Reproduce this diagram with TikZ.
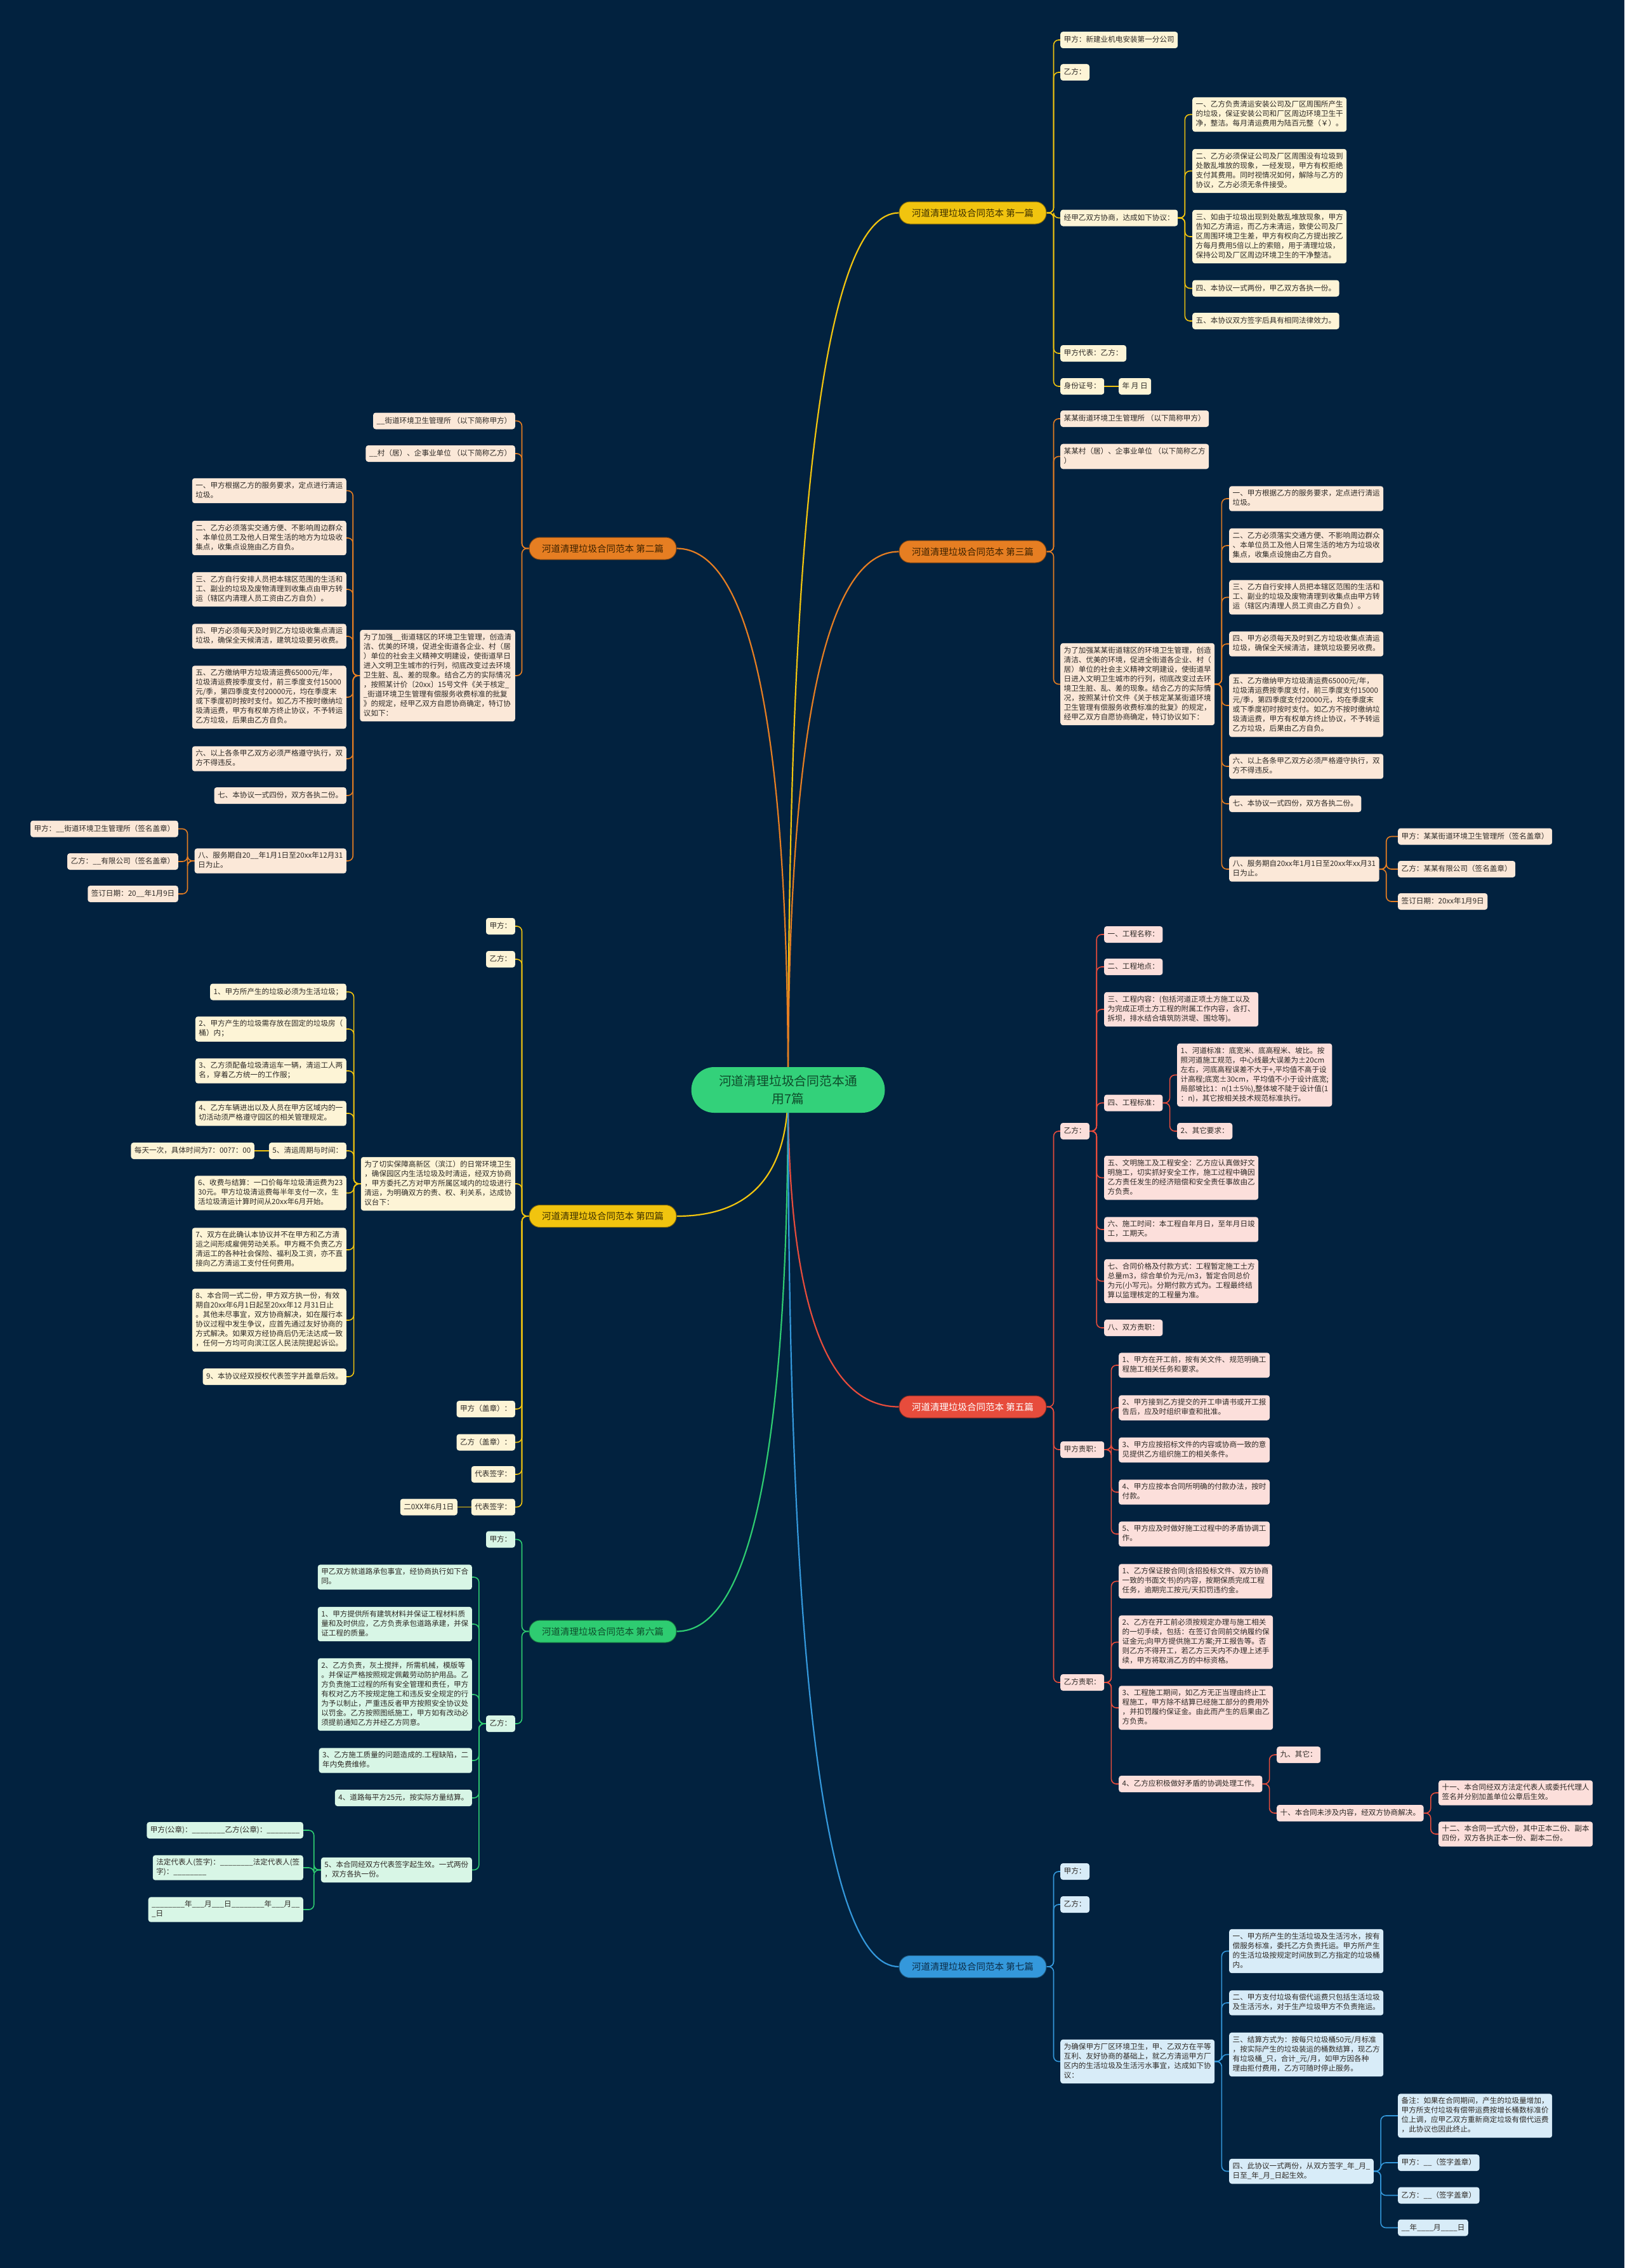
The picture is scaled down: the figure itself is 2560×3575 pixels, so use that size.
\documentclass[tikz,border=0pt]{standalone}
\usepackage{fontspec}
\setmainfont{Noto Sans CJK SC}
\usetikzlibrary{calc}
\pgfdeclarelayer{bg}
\pgfdeclarelayer{edges}
\pgfsetlayers{bg,edges,main}
\definecolor{bgnavy}{HTML}{02223F}
\definecolor{leafink}{HTML}{2E2A26}
\definecolor{ylwline}{HTML}{F1C40F}
\definecolor{ylwfill}{HTML}{FDF4D6}
\definecolor{ylwink}{HTML}{3D3000}
\definecolor{orgline}{HTML}{E67E22}
\definecolor{orgfill}{HTML}{FBE8D8}
\definecolor{orgink}{HTML}{3D2200}
\definecolor{redline}{HTML}{E74C3C}
\definecolor{redfill}{HTML}{FCDFDB}
\definecolor{grnline}{HTML}{2ECC71}
\definecolor{grnfill}{HTML}{D8F6E6}
\definecolor{grnink}{HTML}{0E4D2B}
\definecolor{bluline}{HTML}{3498DB}
\definecolor{blufill}{HTML}{D8ECF8}
\definecolor{bluink}{HTML}{0C2D48}
\definecolor{rootfill}{HTML}{33D17A}
\newcommand\leafstrut{\rule[-3.6pt]{0pt}{15pt}}
\newcommand\leaffont{\fontsize{11.6pt}{15pt}\selectfont}
\newcommand\topicfont{\fontsize{14.5pt}{17pt}\selectfont}
\newcommand\rootfont{\fontsize{19.8pt}{27.7pt}\selectfont}
\newcommand\rlink[3]{\draw[link,#1] (#2.east) -- ++(11,0) |- (#3.west);}
\newcommand\llink[3]{\draw[link,#1] (#2.west) -- ++(-11,0) |- (#3.east);}
\newcommand\rootlink[2]{\draw[rootline,#1] let \p1=(root.center), \p2=(#2) in
  (\p1) .. controls (\x1,{\y1+2/3*(\y2-\y1)}) and ({\x2+2/3*(\x1-\x2)},\y2) .. (\p2);}

\begin{document}
\begin{tikzpicture}[x=1pt,y=-1pt,
  leaf/.style={fill=#1,rounded corners=4pt,align=left,inner xsep=5.5pt,inner ysep=5.5pt,
    font=\leaffont,text=leafink,execute at begin node=\leafstrut,execute at end node=\leafstrut},
  topic/.style={rounded corners=17pt,minimum width=232pt,minimum height=35pt,inner sep=0pt,
    font=\topicfont,line width=1pt},
  tyl/.style={topic,fill=ylwline,draw=ylwline!55!black,text=ylwink},
  tor/.style={topic,fill=orgline,draw=orgline!55!black,text=orgink},
  tre/.style={topic,fill=redline,draw=redline!55!black,text=white},
  tgr/.style={topic,fill=grnline,draw=grnline!55!black,text=grnink},
  tbl/.style={topic,fill=bluline,draw=bluline!55!black,text=bluink},
  root/.style={fill=rootfill,rounded corners=36pt,minimum width=305pt,minimum height=72pt,
    align=center,font=\rootfont,text=grnink},
  link/.style={line width=1.6pt,rounded corners=8pt},
  rootline/.style={line width=2.2pt}]
\useasboundingbox (0,0) rectangle (2560,3575);
\begin{pgfonlayer}{bg}
\fill[bgnavy] (0,0) rectangle (2560,3575);
\end{pgfonlayer}

\node[root] (root) at (1242,1718) {河道清理垃圾合同范本通\\用7篇};

\node[tyl] (t1) at (1533,335.5) {河道清理垃圾合同范本 第一篇};
\node[leaf=ylwfill,anchor=west] (p1a) at (1671,63) {甲方：新建业机电安装第一分公司};
\node[leaf=ylwfill,anchor=west] (p1b) at (1671,114) {乙方：};
\node[leaf=ylwfill,anchor=west] (p1c) at (1671,343.5) {经甲乙双方协商，达成如下协议：};
\node[leaf=ylwfill,anchor=west] (p1c1) at (1879,180.5) {一、乙方负责清运安装公司及厂区周围所产生\\的垃圾，保证安装公司和厂区周边环境卫生干\\净，整洁。每月清运费用为陆百元整（￥）。};
\node[leaf=ylwfill,anchor=west] (p1c2) at (1879,269.5) {二、乙方必须保证公司及厂区周围没有垃圾到\\处散乱堆放的现象，一经发现，甲方有权拒绝\\支付其费用。同时视情况如何，解除与乙方的\\协议，乙方必须无条件接受。};
\node[leaf=ylwfill,anchor=west] (p1c3) at (1879,373) {三、如由于垃圾出现到处散乱堆放现象，甲方\\告知乙方清运，而乙方未清运，致使公司及厂\\区周围环境卫生差，甲方有权向乙方提出按乙\\方每月费用5倍以上的索赔，用于清理垃圾，\\保持公司及厂区周边环境卫生的干净整洁。};
\node[leaf=ylwfill,anchor=west] (p1c4) at (1879,454.5) {四、本协议一式两份，甲乙双方各执一份。};
\node[leaf=ylwfill,anchor=west] (p1c5) at (1879,506) {五、本协议双方签字后具有相同法律效力。};
\node[leaf=ylwfill,anchor=west] (p1d) at (1671,557) {甲方代表：乙方：};
\node[leaf=ylwfill,anchor=west] (p1e) at (1671,609) {身份证号：};
\node[leaf=ylwfill,anchor=west] (p1e1) at (1763,609) {年 月 日};

\node[tor] (t2) at (950,864.5) {河道清理垃圾合同范本 第二篇};
\node[leaf=orgfill,anchor=east] (p2a) at (812,663.5) {\_\_街道环境卫生管理所 （以下简称甲方）};
\node[leaf=orgfill,anchor=east] (p2b) at (812,715) {\_\_村（居）、企事业单位 （以下简称乙方）};
\node[leaf=orgfill,anchor=east] (p2c) at (812,1065) {为了加强\_\_街道辖区的环境卫生管理，创造清\\洁、优美的环境，促进全街道各企业、村（居\\）单位的社会主义精神文明建设，使街道早日\\进入文明卫生城市的行列，彻底改变过去环境\\卫生脏、乱、差的现象。结合乙方的实际情况\\，按照某计价〔20xx〕15号文件《关于核定\_\\\_街道环境卫生管理有偿服务收费标准的批复\\》的规定，经甲乙双方自愿协商确定，特订协\\议如下：};
\node[leaf=orgfill,anchor=east] (p2c1) at (546,773.5) {一、甲方根据乙方的服务要求，定点进行清运\\垃圾。};
\node[leaf=orgfill,anchor=east] (p2c2) at (546,848) {二、乙方必须落实交通方便、不影响周边群众\\、本单位员工及他人日常生活的地方为垃圾收\\集点，收集点设施由乙方自负。};
\node[leaf=orgfill,anchor=east] (p2c3) at (546,929) {三、乙方自行安排人员把本辖区范围的生活和\\工、副业的垃圾及废物清理到收集点由甲方转\\运（辖区内清理人员工资由乙方自负）。};
\node[leaf=orgfill,anchor=east] (p2c4) at (546,1003) {四、甲方必须每天及时到乙方垃圾收集点清运\\垃圾，确保全天候清洁，建筑垃圾要另收费。};
\node[leaf=orgfill,anchor=east] (p2c5) at (546,1099) {五、乙方缴纳甲方垃圾清运费65000元/年，\\垃圾清运费按季度支付，前三季度支付15000\\元/季，第四季度支付20000元，均在季度末\\或下季度初时按时支付。如乙方不按时缴纳垃\\圾清运费，甲方有权单方终止协议，不予转运\\乙方垃圾，后果由乙方自负。};
\node[leaf=orgfill,anchor=east] (p2c6) at (546,1196) {六、以上各条甲乙双方必须严格遵守执行，双\\方不得违反。};
\node[leaf=orgfill,anchor=east] (p2c7) at (546,1254) {七、本协议一式四份，双方各执二份。};
\node[leaf=orgfill,anchor=east] (p2c8) at (546,1357) {八、服务期自20\_\_年1月1日至20xx年12月31\\日为止。};
\node[leaf=orgfill,anchor=east] (p2c8a) at (281,1306.5) {甲方：\_\_街道环境卫生管理所（签名盖章）};
\node[leaf=orgfill,anchor=east] (p2c8b) at (281,1358) {乙方：\_\_有限公司（签名盖章）};
\node[leaf=orgfill,anchor=east] (p2c8c) at (281,1409) {签订日期：20\_\_年1月9日};

\node[tor] (t3) at (1533,869.5) {河道清理垃圾合同范本 第三篇};
\node[leaf=orgfill,anchor=west] (p3a) at (1671,660) {某某街道环境卫生管理所 （以下简称甲方）};
\node[leaf=orgfill,anchor=west] (p3b) at (1671,719.5) {某某村（居）、企事业单位 （以下简称乙方\\）};
\node[leaf=orgfill,anchor=west] (p3c) at (1671,1078.5) {为了加强某某街道辖区的环境卫生管理，创造\\清洁、优美的环境，促进全街道各企业、村（\\居）单位的社会主义精神文明建设，使街道早\\日进入文明卫生城市的行列，彻底改变过去环\\境卫生脏、乱、差的现象。结合乙方的实际情\\况，按照某计价文件《关于核定某某街道环境\\卫生管理有偿服务收费标准的批复》的规定，\\经甲乙双方自愿协商确定，特订协议如下：};
\node[leaf=orgfill,anchor=west] (p3c1) at (1937,786) {一、甲方根据乙方的服务要求，定点进行清运\\垃圾。};
\node[leaf=orgfill,anchor=west] (p3c2) at (1937,860) {二、乙方必须落实交通方便、不影响周边群众\\、本单位员工及他人日常生活的地方为垃圾收\\集点，收集点设施由乙方自负。};
\node[leaf=orgfill,anchor=west] (p3c3) at (1937,941.5) {三、乙方自行安排人员把本辖区范围的生活和\\工、副业的垃圾及废物清理到收集点由甲方转\\运（辖区内清理人员工资由乙方自负）。};
\node[leaf=orgfill,anchor=west] (p3c4) at (1937,1015) {四、甲方必须每天及时到乙方垃圾收集点清运\\垃圾，确保全天候清洁，建筑垃圾要另收费。};
\node[leaf=orgfill,anchor=west] (p3c5) at (1937,1112) {五、乙方缴纳甲方垃圾清运费65000元/年，\\垃圾清运费按季度支付，前三季度支付15000\\元/季，第四季度支付20000元，均在季度末\\或下季度初时按时支付。如乙方不按时缴纳垃\\圾清运费，甲方有权单方终止协议，不予转运\\乙方垃圾，后果由乙方自负。};
\node[leaf=orgfill,anchor=west] (p3c6) at (1937,1208) {六、以上各条甲乙双方必须严格遵守执行，双\\方不得违反。};
\node[leaf=orgfill,anchor=west] (p3c7) at (1937,1267) {七、本协议一式四份，双方各执二份。};
\node[leaf=orgfill,anchor=west] (p3c8) at (1937,1370) {八、服务期自20xx年1月1日至20xx年xx月31\\日为止。};
\node[leaf=orgfill,anchor=west] (p3c8a) at (2203,1318.5) {甲方：某某街道环境卫生管理所（签名盖章）};
\node[leaf=orgfill,anchor=west] (p3c8b) at (2203,1370) {乙方：某某有限公司（签名盖章）};
\node[leaf=orgfill,anchor=west] (p3c8c) at (2203,1421) {签订日期：20xx年1月9日};

\node[tyl] (t4) at (950,1917) {河道清理垃圾合同范本 第四篇};
\node[leaf=ylwfill,anchor=east] (p4a) at (812,1460) {甲方：};
\node[leaf=ylwfill,anchor=east] (p4b) at (812,1512) {乙方：};
\node[leaf=ylwfill,anchor=east] (p4c) at (812,1866) {为了切实保障高新区（滨江）的日常环境卫生\\，确保园区内生活垃圾及时清运，经双方协商\\，甲方委托乙方对甲方所属区域内的垃圾进行\\清运，为明确双方的责、权、利关系，达成协\\议台下：};
\node[leaf=ylwfill,anchor=east] (p4c1) at (546,1563.5) {1、甲方所产生的垃圾必须为生活垃圾；};
\node[leaf=ylwfill,anchor=east] (p4c2) at (546,1622) {2、甲方产生的垃圾需存放在固定的垃圾房（\\桶）内；};
\node[leaf=ylwfill,anchor=east] (p4c3) at (546,1688) {3、乙方须配备垃圾清运车一辆，清运工人两\\名，穿着乙方统一的工作服；};
\node[leaf=ylwfill,anchor=east] (p4c4) at (546,1755) {4、乙方车辆进出以及人员在甲方区域内的一\\切活动须严格遵守园区的相关管理规定。};
\node[leaf=ylwfill,anchor=east] (p4c5) at (546,1814) {5、清运周期与时间：};
\node[leaf=ylwfill,anchor=east] (p4c5a) at (401,1814) {每天一次，具体时间为7：00?7：00};
\node[leaf=ylwfill,anchor=east] (p4c6) at (546,1880.5) {6、收费与结算：一口价每年垃圾清运费为23\\30元。甲方垃圾清运费每半年支付一次，生\\活垃圾清运计算时间从20xx年6月开始。};
\node[leaf=ylwfill,anchor=east] (p4c7) at (546,1970) {7、双方在此确认本协议并不在甲方和乙方清\\运之间形成雇佣劳动关系。甲方概不负责乙方\\清运工的各种社会保险、福利及工资，亦不直\\接向乙方清运工支付任何费用。};
\node[leaf=ylwfill,anchor=east] (p4c8) at (546,2081) {8、本合同一式二份，甲方双方执一份，有效\\期自20xx年6月1日起至20xx年12 月31日止\\。其他未尽事宜，双方协商解决，如在履行本\\协议过程中发生争议，应首先通过友好协商的\\方式解决。如果双方经协商后仍无法达成一致\\，任何一方均可向滨江区人民法院提起诉讼。};
\node[leaf=ylwfill,anchor=east] (p4c9) at (546,2170) {9、本协议经双授权代表签字并盖章后效。};
\node[leaf=ylwfill,anchor=east] (p4d) at (812,2221) {甲方（盖章）：};
\node[leaf=ylwfill,anchor=east] (p4e) at (812,2273.5) {乙方（盖章）：};
\node[leaf=ylwfill,anchor=east] (p4f) at (812,2324) {代表签字：};
\node[leaf=ylwfill,anchor=east] (p4g) at (812,2375.5) {代表签字：};
\node[leaf=ylwfill,anchor=east] (p4g1) at (721,2375.5) {二0XX年6月1日};

\node[tre] (t5) at (1533,2217.5) {河道清理垃圾合同范本 第五篇};
\node[leaf=redfill,anchor=west] (p5a) at (1671,1783) {乙方：};
\node[leaf=redfill,anchor=west] (p5a1) at (1740,1473) {一、工程名称：};
\node[leaf=redfill,anchor=west] (p5a2) at (1740,1524) {二、工程地点：};
\node[leaf=redfill,anchor=west] (p5a3) at (1740,1591) {三、工程内容：(包括河道正项土方施工以及\\为完成正项土方工程的附属工作内容，含打、\\拆坝，排水结合填筑防洪堤、围埝等)。};
\node[leaf=redfill,anchor=west] (p5a4) at (1740,1738.5) {四、工程标准：};
\node[leaf=redfill,anchor=west] (p5a4a) at (1855,1694.5) {1、河道标准：底宽米、底高程米、坡比。按\\照河道施工规范，中心线最大误差为±20cm\\左右，河底高程误差不大于+,平均值不高于设\\计高程;底宽±30cm，平均值不小于设计底宽;\\局部坡比1：n(1±5\%),整体坡不陡于设计值(1\\：n)，其它按相关技术规范标准执行。};
\node[leaf=redfill,anchor=west] (p5a4b) at (1855,1783) {2、其它要求：};
\node[leaf=redfill,anchor=west] (p5a5) at (1740,1856.5) {五、文明施工及工程安全：乙方应认真做好文\\明施工，切实抓好安全工作，施工过程中确因\\乙方责任发生的经济赔偿和安全责任事故由乙\\方负责。};
\node[leaf=redfill,anchor=west] (p5a6) at (1740,1938) {六、施工时间：本工程自年月日，至年月日竣\\工，工期天。};
\node[leaf=redfill,anchor=west] (p5a7) at (1740,2019.5) {七、合同价格及付款方式：工程暂定施工土方\\总量m3，综合单价为元/m3，暂定合同总价\\为元(小写元)。分期付款方式为。工程最终结\\算以监理核定的工程量为准。};
\node[leaf=redfill,anchor=west] (p5a8) at (1740,2093) {八、双方责职：};
\node[leaf=redfill,anchor=west] (p5b) at (1671,2285) {甲方责职：};
\node[leaf=redfill,anchor=west] (p5b1) at (1763,2152) {1、甲方在开工前，按有关文件、规范明确工\\程施工相关任务和要求。};
\node[leaf=redfill,anchor=west] (p5b2) at (1763,2219) {2、甲方接到乙方提交的开工申请书或开工报\\告后，应及时组织审查和批准。};
\node[leaf=redfill,anchor=west] (p5b3) at (1763,2285.5) {3、甲方应按招标文件的内容或协商一致的意\\见提供乙方组织施工的相关条件。};
\node[leaf=redfill,anchor=west] (p5b4) at (1763,2352) {4、甲方应按本合同所明确的付款办法，按时\\付款。};
\node[leaf=redfill,anchor=west] (p5b5) at (1763,2418) {5、甲方应及时做好施工过程中的矛盾协调工\\作。};
\node[leaf=redfill,anchor=west] (p5c) at (1671,2652) {乙方责职：};
\node[leaf=redfill,anchor=west] (p5c1) at (1763,2492.5) {1、乙方保证按合同(含招投标文件、双方协商\\一致的书面文书)的内容，按期保质完成工程\\任务，逾期完工按元/天扣罚违约金。};
\node[leaf=redfill,anchor=west] (p5c2) at (1763,2588.5) {2、乙方在开工前必须按规定办理与施工相关\\的一切手续，包括：在签订合同前交纳履约保\\证金元;向甲方提供施工方案;开工报告等。否\\则乙方不得开工，若乙方三天内不办理上述手\\续，甲方将取消乙方的中标资格。};
\node[leaf=redfill,anchor=west] (p5c3) at (1763,2692) {3、工程施工期间，如乙方无正当理由终止工\\程施工，甲方除不结算已经施工部分的费用外\\，并扣罚履约保证金。由此而产生的后果由乙\\方负责。};
\node[leaf=redfill,anchor=west] (p5c4) at (1763,2812) {4、乙方应积极做好矛盾的协调处理工作。};
\node[leaf=redfill,anchor=west] (p5c4a) at (2012,2766) {九、其它：};
\node[leaf=redfill,anchor=west] (p5c4b) at (2012,2858) {十、本合同未涉及内容，经双方协商解决。};
\node[leaf=redfill,anchor=west] (p5c4b1) at (2267,2826) {十一、本合同经双方法定代表人或委托代理人\\签名并分别加盖单位公章后生效。};
\node[leaf=redfill,anchor=west] (p5c4b2) at (2267,2891) {十二、本合同一式六份，其中正本二份、副本\\四份，双方各执正本一份、副本二份。};

\node[tgr] (t6) at (950,2571.5) {河道清理垃圾合同范本 第六篇};
\node[leaf=grnfill,anchor=east] (p6a) at (812,2426.5) {甲方：};
\node[leaf=grnfill,anchor=east] (p6b) at (812,2717) {乙方：};
\node[leaf=grnfill,anchor=east] (p6b0) at (744,2486) {甲乙双方就道路承包事宜，经协商执行如下合\\同。};
\node[leaf=grnfill,anchor=east] (p6b1) at (744,2560) {1、甲方提供所有建筑材料并保证工程材料质\\量和及时供应，乙方负责承包道路承建，并保\\证工程的质量。};
\node[leaf=grnfill,anchor=east] (p6b2) at (744,2671) {2、乙方负责，灰土搅拌，所需机械，模版等\\。并保证严格按照规定佩戴劳动防护用品。乙\\方负责施工过程的所有安全管理和责任，甲方\\有权对乙方不按规定施工和违反安全规定的行\\为予以制止，严重违反者甲方按照安全协议处\\以罚金。乙方按照图纸施工，甲方如有改动必\\须提前通知乙方并经乙方同意。};
\node[leaf=grnfill,anchor=east] (p6b3) at (744,2775) {3、乙方施工质量的问题造成的.工程缺陷，二\\年内免费维修。};
\node[leaf=grnfill,anchor=east] (p6b4) at (744,2834) {4、道路每平方25元，按实际方量结算。};
\node[leaf=grnfill,anchor=east] (p6b5) at (744,2947.5) {5、本合同经双方代表签字起生效。一式两份\\，双方各执一份。};
\node[leaf=grnfill,anchor=east] (p6b5a) at (478,2885) {甲方(公章)：\_\_\_\_\_\_\_\_乙方(公章)：\_\_\_\_\_\_\_\_};
\node[leaf=grnfill,anchor=east] (p6b5b) at (478,2944) {法定代表人(签字)：\_\_\_\_\_\_\_\_法定代表人(签\\字)：\_\_\_\_\_\_\_\_};
\node[leaf=grnfill,anchor=east] (p6b5c) at (478,3010) {\_\_\_\_\_\_\_\_年\_\_\_月\_\_\_日\_\_\_\_\_\_\_\_年\_\_\_月\_\_\\\_日};

\node[tbl] (t7) at (1533,3100) {河道清理垃圾合同范本 第七篇};
\node[leaf=blufill,anchor=west] (p7a) at (1671,2950) {甲方：};
\node[leaf=blufill,anchor=west] (p7b) at (1671,3002) {乙方：};
\node[leaf=blufill,anchor=west] (p7c) at (1671,3249.5) {为确保甲方厂区环境卫生，甲、乙双方在平等\\互利、友好协商的基础上，就乙方清运甲方厂\\区内的生活垃圾及生活污水事宜，达成如下协\\议：};
\node[leaf=blufill,anchor=west] (p7c1) at (1937,3075.5) {一、甲方所产生的生活垃圾及生活污水，按有\\偿服务标准，委托乙方负责托运。甲方所产生\\的生活垃圾按规定时间放到乙方指定的垃圾桶\\内。};
\node[leaf=blufill,anchor=west] (p7c2) at (1937,3157) {二、甲方支付垃圾有偿代运费只包括生活垃圾\\及生活污水，对于生产垃圾甲方不负责拖运。};
\node[leaf=blufill,anchor=west] (p7c3) at (1937,3238.5) {三、结算方式为：按每只垃圾桶50元/月标准\\，按实际产生的垃圾装运的桶数结算，现乙方\\有垃圾桶\_只，合计\_元/月，如甲方因各种\\理由拒付费用，乙方可随时停止服务。};
\node[leaf=blufill,anchor=west] (p7c4) at (1937,3422.5) {四、此协议一式两份，从双方签字\_年\_月\_\\日至\_年\_月\_日起生效。};
\node[leaf=blufill,anchor=west] (p7c4a) at (2203,3335) {备注：如果在合同期间，产生的垃圾量增加，\\甲方所支付垃圾有偿带运费按增长桶数标准价\\位上调，应甲乙双方重新商定垃圾有偿代运费\\，此协议也因此终止。};
\node[leaf=blufill,anchor=west] (p7c4b) at (2203,3409) {甲方：\_\_（签字盖章）};
\node[leaf=blufill,anchor=west] (p7c4c) at (2203,3460.5) {乙方：\_\_（签字盖章）};
\node[leaf=blufill,anchor=west] (p7c4d) at (2203,3511.5) {\_\_年\_\_\_\_月\_\_\_\_日};

\begin{pgfonlayer}{edges}
\rootlink{ylwline}{t1.west}
\rootlink{orgline}{t2.east}
\rootlink{orgline}{t3.west}
\rootlink{ylwline}{t4.east}
\rootlink{redline}{t5.west}
\rootlink{grnline}{t6.east}
\rootlink{bluline}{t7.west}
\rlink{ylwline}{t1}{p1a}
\rlink{ylwline}{t1}{p1b}
\rlink{ylwline}{t1}{p1c}
\rlink{ylwline}{t1}{p1d}
\rlink{ylwline}{t1}{p1e}
\rlink{ylwline}{p1c}{p1c1}
\rlink{ylwline}{p1c}{p1c2}
\rlink{ylwline}{p1c}{p1c3}
\rlink{ylwline}{p1c}{p1c4}
\rlink{ylwline}{p1c}{p1c5}
\draw[link,ylwline] (p1e.east) -- (p1e1.west);
\llink{orgline}{t2}{p2a}
\llink{orgline}{t2}{p2b}
\llink{orgline}{t2}{p2c}
\llink{orgline}{p2c}{p2c1}
\llink{orgline}{p2c}{p2c2}
\llink{orgline}{p2c}{p2c3}
\llink{orgline}{p2c}{p2c4}
\llink{orgline}{p2c}{p2c5}
\llink{orgline}{p2c}{p2c6}
\llink{orgline}{p2c}{p2c7}
\llink{orgline}{p2c}{p2c8}
\llink{orgline}{p2c8}{p2c8a}
\llink{orgline}{p2c8}{p2c8b}
\llink{orgline}{p2c8}{p2c8c}
\rlink{orgline}{t3}{p3a}
\rlink{orgline}{t3}{p3b}
\rlink{orgline}{t3}{p3c}
\rlink{orgline}{p3c}{p3c1}
\rlink{orgline}{p3c}{p3c2}
\rlink{orgline}{p3c}{p3c3}
\rlink{orgline}{p3c}{p3c4}
\rlink{orgline}{p3c}{p3c5}
\rlink{orgline}{p3c}{p3c6}
\rlink{orgline}{p3c}{p3c7}
\rlink{orgline}{p3c}{p3c8}
\rlink{orgline}{p3c8}{p3c8a}
\rlink{orgline}{p3c8}{p3c8b}
\rlink{orgline}{p3c8}{p3c8c}
\llink{ylwline}{t4}{p4a}
\llink{ylwline}{t4}{p4b}
\llink{ylwline}{t4}{p4c}
\llink{ylwline}{t4}{p4d}
\llink{ylwline}{t4}{p4e}
\llink{ylwline}{t4}{p4f}
\llink{ylwline}{t4}{p4g}
\llink{ylwline}{p4c}{p4c1}
\llink{ylwline}{p4c}{p4c2}
\llink{ylwline}{p4c}{p4c3}
\llink{ylwline}{p4c}{p4c4}
\llink{ylwline}{p4c}{p4c5}
\llink{ylwline}{p4c}{p4c6}
\llink{ylwline}{p4c}{p4c7}
\llink{ylwline}{p4c}{p4c8}
\llink{ylwline}{p4c}{p4c9}
\draw[link,ylwline] (p4c5.west) -- (p4c5a.east);
\draw[link,ylwline] (p4g.west) -- (p4g1.east);
\rlink{redline}{t5}{p5a}
\rlink{redline}{t5}{p5b}
\rlink{redline}{t5}{p5c}
\rlink{redline}{p5a}{p5a1}
\rlink{redline}{p5a}{p5a2}
\rlink{redline}{p5a}{p5a3}
\rlink{redline}{p5a}{p5a4}
\rlink{redline}{p5a}{p5a5}
\rlink{redline}{p5a}{p5a6}
\rlink{redline}{p5a}{p5a7}
\rlink{redline}{p5a}{p5a8}
\rlink{redline}{p5a4}{p5a4a}
\rlink{redline}{p5a4}{p5a4b}
\rlink{redline}{p5b}{p5b1}
\rlink{redline}{p5b}{p5b2}
\rlink{redline}{p5b}{p5b3}
\rlink{redline}{p5b}{p5b4}
\rlink{redline}{p5b}{p5b5}
\rlink{redline}{p5c}{p5c1}
\rlink{redline}{p5c}{p5c2}
\rlink{redline}{p5c}{p5c3}
\rlink{redline}{p5c}{p5c4}
\rlink{redline}{p5c4}{p5c4a}
\rlink{redline}{p5c4}{p5c4b}
\rlink{redline}{p5c4b}{p5c4b1}
\rlink{redline}{p5c4b}{p5c4b2}
\llink{grnline}{t6}{p6a}
\llink{grnline}{t6}{p6b}
\llink{grnline}{p6b}{p6b0}
\llink{grnline}{p6b}{p6b1}
\llink{grnline}{p6b}{p6b2}
\llink{grnline}{p6b}{p6b3}
\llink{grnline}{p6b}{p6b4}
\llink{grnline}{p6b}{p6b5}
\llink{grnline}{p6b5}{p6b5a}
\llink{grnline}{p6b5}{p6b5b}
\llink{grnline}{p6b5}{p6b5c}
\rlink{bluline}{t7}{p7a}
\rlink{bluline}{t7}{p7b}
\rlink{bluline}{t7}{p7c}
\rlink{bluline}{p7c}{p7c1}
\rlink{bluline}{p7c}{p7c2}
\rlink{bluline}{p7c}{p7c3}
\rlink{bluline}{p7c}{p7c4}
\rlink{bluline}{p7c4}{p7c4a}
\rlink{bluline}{p7c4}{p7c4b}
\rlink{bluline}{p7c4}{p7c4c}
\rlink{bluline}{p7c4}{p7c4d}
\end{pgfonlayer}
\end{tikzpicture}
\end{document}
